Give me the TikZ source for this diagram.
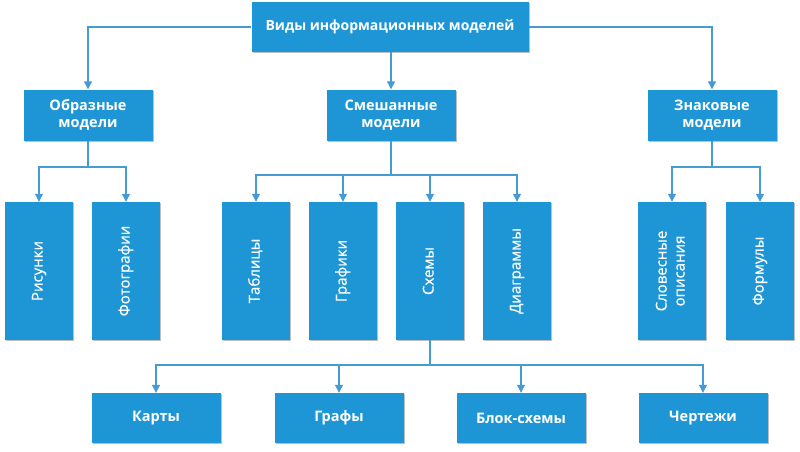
\documentclass[tikz,border=0pt]{standalone}
\usepackage{fontspec}
\setmainfont{Open Sans}
\newfontfamily\vfont{Open Sans}[FakeBold=0.6]
\usetikzlibrary{arrows.meta,shadows}
\definecolor{boxblue}{RGB}{30,150,214}
\definecolor{lineblue}{RGB}{70,155,212}
\tikzset{
  box/.style={fill=boxblue, draw=none, text=white, align=center, inner sep=0pt,
    drop shadow={shadow xshift=1pt, shadow yshift=-1pt, opacity=0.25, fill=black}},
  hbox/.style={box, minimum width=129pt, minimum height=51pt, font=\fontsize{14.5}{17.5}\selectfont\bfseries},
  vbox/.style={box, minimum width=68pt, minimum height=138pt, font=\fontsize{15}{18}\selectfont\vfont},
  link/.style={draw=lineblue, line width=1.2pt},
  arr/.style={link, -{Triangle[width=8pt,length=8pt]}},
}
\newcommand{\vtext}[1]{\rotatebox{90}{\begin{tabular}{@{}c@{}}#1\end{tabular}}}
\begin{document}
\begin{tikzpicture}[x=1pt,y=-1pt]
\useasboundingbox (0,0) rectangle (800,452);
% level 0
\node[hbox, minimum width=277pt, minimum height=50pt, font=\fontsize{14}{17}\selectfont\bfseries] (top) at (390,27) {Виды информационных моделей};
% level 1
\node[hbox] (ob) at (88,115) {Образные\\модели};
\node[hbox] (sm) at (391,115) {Смешанные\\модели};
\node[hbox] (zn) at (712,115) {Знаковые\\модели};
% level 2
\node[vbox] (ris) at (39,271) {\vtext{Рисунки}};
\node[vbox] (foto) at (126,271) {\vtext{Фотографии}};
\node[vbox] (tab) at (256,271) {\vtext{Таблицы}};
\node[vbox] (graf) at (343,271) {\vtext{Графики}};
\node[vbox] (sch) at (430,271) {\vtext{Схемы}};
\node[vbox] (diag) at (517,271) {\vtext{Диаграммы}};
\node[vbox] (slov) at (672,271) {\vtext{Словесные\\описания}};
\node[vbox] (form) at (760,271) {\vtext{Формулы}};
% level 3
\node[hbox, minimum height=50pt] (kart) at (156,418) {Карты};
\node[hbox, minimum height=50pt] (grafy) at (339,418) {Графы};
\node[hbox, minimum height=50pt] (blok) at (521,418) {Блок-схемы};
\node[hbox, minimum height=50pt] (cher) at (703,418) {Чертежи};
% connectors level 0 -> 1
\draw[arr] (top.west) -| (ob.north);
\draw[arr] (top.south -| sm.north) -- (sm.north);
\draw[arr] (top.east) -| (zn.north);
% junctions
\coordinate (jo) at (88,167);
\coordinate (js) at (391,175);
\coordinate (jz) at (712,167);
\coordinate (jc) at (430,365);
\draw[link] (ob.south) -- (jo);
\draw[arr] (jo) -| (ris.north);
\draw[arr] (jo) -| (foto.north);
\draw[link] (sm.south) -- (js);
\draw[arr] (js) -| (tab.north);
\draw[arr] (js) -| (graf.north);
\draw[arr] (js) -| (sch.north);
\draw[arr] (js) -| (diag.north);
\draw[link] (zn.south) -- (jz);
\draw[arr] (jz) -| (slov.north);
\draw[arr] (jz) -| (form.north);
\draw[link] (sch.south) -- (jc);
\draw[arr] (jc) -| (kart.north);
\draw[arr] (jc) -| (grafy.north);
\draw[arr] (jc) -| (blok.north);
\draw[arr] (jc) -| (cher.north);
\end{tikzpicture}
\end{document}
